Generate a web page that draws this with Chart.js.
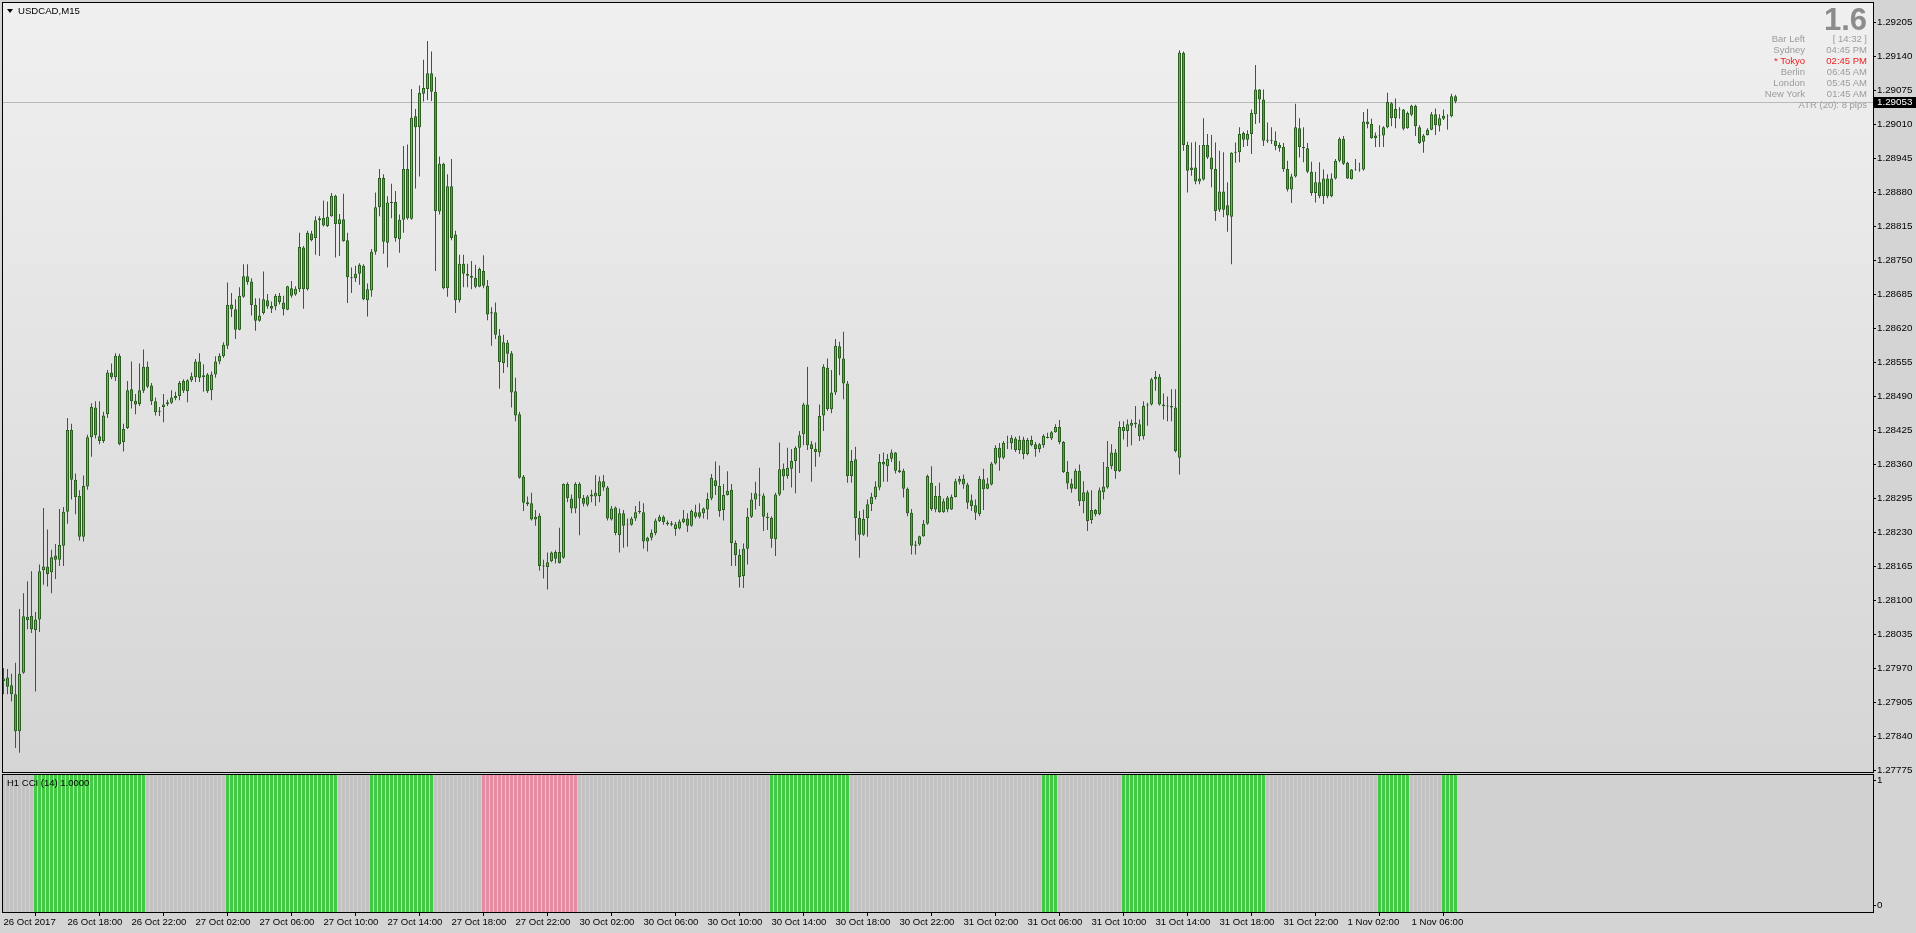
<!DOCTYPE html>
<html>
<head>
<meta charset="utf-8">
<title>USDCAD,M15</title>
<script src="https://cdn.jsdelivr.net/npm/chart.js@4.4.1/dist/chart.umd.min.js"></script>
<style>
  html, body { margin:0; padding:0; width:1916px; height:933px; overflow:hidden; background:#d4d4d4; font-family:'Liberation Sans', Arial, sans-serif; }
  canvas { position:absolute; left:0; display:block; }
  #cMain { top:0; }
  #cInd { top:773px; }
  .ov { position:absolute; white-space:nowrap; font-size:9.5px; line-height:11px; }
  #title { left:18px; top:5px; color:#000; font-size:9.6px; }
  #tri { position:absolute; left:7px; top:9px; width:0; height:0; border-left:3px solid transparent; border-right:3px solid transparent; border-top:4px solid #000; }
  #big { right:49px; top:4px; font-size:31px; line-height:31px; font-weight:bold; color:#8c8c8c; }
  #colL { right:111px; top:32.5px; text-align:right; color:#9c9c9c; }
  #colR { right:49px; top:32.5px; text-align:right; color:#9c9c9c; }
  #atr { right:49px; top:99px; text-align:right; color:#9c9c9c; }
  .red { color:#f01c1c; }
</style>
</head>
<body>
<canvas id="cMain" width="1916" height="773"></canvas>
<canvas id="cInd" width="1916" height="160"></canvas>
<div id="tri"></div>
<div class="ov" id="title">USDCAD,M15</div>
<div class="ov" id="big">1.6</div>
<div class="ov" id="colL">Bar Left<br>Sydney<br><span class="red">* Tokyo</span><br>Berlin<br>London<br>New York</div>
<div class="ov" id="colR">[ 14:32 ]<br>04:45 PM<br><span class="red">02:45 PM</span><br>06:45 AM<br>05:45 AM<br>01:45 AM</div>
<div class="ov" id="atr">ATR (20): 8 pips</div>
<script>
// ---------------- DATA (USDCAD M15, bars from 26 Oct 2017 14:00) ----------------
const opens = [
1.27945,1.27952,1.27937,1.27920,1.27849,1.27961,1.28062,1.28070,1.28042,1.28063,
1.28157,1.28164,1.28153,1.28185,1.28177,1.28204,1.28269,1.28425,1.28330,1.28299,
1.28221,1.28317,1.28411,1.28468,1.28413,1.28404,1.28455,1.28535,1.28526,1.28567,
1.28402,1.28429,1.28503,1.28481,1.28475,1.28500,1.28546,1.28510,1.28480,1.28462,
1.28469,1.28475,1.28477,1.28486,1.28490,1.28519,1.28499,1.28520,1.28526,1.28556,
1.28530,1.28531,1.28501,1.28531,1.28556,1.28566,1.28586,1.28665,1.28656,1.28617,
1.28680,1.28719,1.28709,1.28664,1.28634,1.28649,1.28673,1.28662,1.28661,1.28682,
1.28669,1.28655,1.28696,1.28684,1.28694,1.28774,1.28694,1.28801,1.28792,1.28826,
1.28831,1.28815,1.28834,1.28873,1.28819,1.28828,1.28788,1.28717,1.28715,1.28724,
1.28739,1.28673,1.28692,1.28766,1.28851,1.28907,1.28783,1.28859,1.28861,1.28790,
1.28827,1.28924,1.28829,1.29025,1.29004,1.29068,1.29077,1.29107,1.29072,1.28843,
1.28934,1.28696,1.28891,1.28799,1.28673,1.28743,1.28724,1.28720,1.28716,1.28699,
1.28729,1.28701,1.28648,1.28650,1.28606,1.28553,1.28592,1.28572,1.28499,1.28455,
1.28336,1.28287,1.28285,1.28259,1.28261,1.28166,1.28163,1.28174,1.28192,1.28192,
1.28181,1.28322,1.28294,1.28275,1.28322,1.28295,1.28282,1.28298,1.28298,1.28299,
1.28327,1.28315,1.28254,1.28277,1.28224,1.28266,1.28244,1.28244,1.28256,1.28268,
1.28268,1.28212,1.28219,1.28228,1.28251,1.28259,1.28248,1.28247,1.28236,1.28237,
1.28249,1.28256,1.28242,1.28259,1.28268,1.28266,1.28273,1.28294,1.28329,1.28318,
1.28272,1.28301,1.28311,1.28209,1.28186,1.28146,1.28198,1.28259,1.28292,1.28302,
1.28300,1.28259,1.28257,1.28216,1.28302,1.28351,1.28337,1.28351,1.28366,1.28391,
1.28417,1.28474,1.28398,1.28389,1.28382,1.28453,1.28544,1.28465,1.28497,1.28585,
1.28562,1.28514,1.28337,1.28369,1.28257,1.28225,1.28257,1.28283,1.28297,1.28315,
1.28364,1.28356,1.28370,1.28382,1.28348,1.28347,1.28313,1.28267,1.28206,1.28206,
1.28222,1.28246,1.28324,1.28273,1.28299,1.28268,1.28296,1.28273,1.28297,1.28326,
1.28332,1.28321,1.28291,1.28281,1.28264,1.28331,1.28313,1.28321,1.28361,1.28391,
1.28372,1.28400,1.28400,1.28409,1.28387,1.28407,1.28379,1.28406,1.28398,1.28389,
1.28396,1.28410,1.28409,1.28421,1.28431,1.28402,1.28345,1.28323,1.28313,1.28347,
1.28289,1.28306,1.28253,1.28272,1.28264,1.28306,1.28315,1.28356,1.28382,1.28346,
1.28423,1.28423,1.28433,1.28436,1.28436,1.28413,1.28472,1.28474,1.28522,1.28527,
1.28474,1.28472,1.28468,1.28468,1.28372,1.29146,1.28970,1.28927,1.28927,1.28900,
1.28904,1.28970,1.28946,1.28924,1.28846,1.28881,1.28855,1.28833,1.28955,1.28956,
1.28993,1.28980,1.28991,1.29029,1.29076,1.29057,1.28980,1.28980,1.28978,1.28970,
1.28966,1.28924,1.28885,1.28910,1.29002,1.28966,1.28964,1.28919,1.28878,1.28899,
1.28872,1.28906,1.28872,1.28906,1.28940,1.28982,1.28936,1.28905,1.28923,1.28924,
1.28923,1.29015,1.29010,1.28988,1.28989,1.28988,1.29004,1.29050,1.29021,1.29038,
1.29038,1.29002,1.29028,1.29045,1.29004,1.28976,1.28989,1.28999,1.29029,1.29007,
1.29020,1.29025,1.29025,1.29063
];
const highs = [
1.27970,1.27968,1.27959,1.27980,1.28083,1.28113,1.28136,1.28155,1.28077,1.28168,
1.28276,1.28235,1.28196,1.28207,1.28274,1.28278,1.28448,1.28437,1.28342,1.28310,
1.28338,1.28416,1.28476,1.28480,1.28480,1.28460,1.28540,1.28552,1.28572,1.28571,
1.28437,1.28519,1.28556,1.28494,1.28552,1.28579,1.28556,1.28515,1.28487,1.28469,
1.28494,1.28483,1.28501,1.28498,1.28519,1.28522,1.28522,1.28535,1.28561,1.28572,
1.28551,1.28534,1.28537,1.28566,1.28572,1.28593,1.28707,1.28687,1.28675,1.28698,
1.28742,1.28742,1.28715,1.28677,1.28677,1.28728,1.28685,1.28671,1.28685,1.28687,
1.28682,1.28701,1.28710,1.28700,1.28802,1.28777,1.28806,1.28806,1.28834,1.28834,
1.28864,1.28862,1.28878,1.28875,1.28838,1.28877,1.28802,1.28736,1.28739,1.28744,
1.28742,1.28705,1.28771,1.28879,1.28924,1.28914,1.28872,1.28896,1.28882,1.28837,
1.28968,1.28971,1.29077,1.29039,1.29084,1.29133,1.29169,1.29149,1.29100,1.28948,
1.28936,1.28914,1.28943,1.28806,1.28760,1.28760,1.28743,1.28748,1.28741,1.28736,
1.28759,1.28712,1.28660,1.28669,1.28618,1.28607,1.28597,1.28576,1.28525,1.28460,
1.28339,1.28298,1.28305,1.28272,1.28266,1.28177,1.28191,1.28193,1.28195,1.28238,
1.28323,1.28325,1.28302,1.28325,1.28325,1.28301,1.28301,1.28311,1.28339,1.28336,
1.28339,1.28318,1.28280,1.28279,1.28275,1.28272,1.28256,1.28259,1.28280,1.28289,
1.28285,1.28221,1.28235,1.28256,1.28263,1.28262,1.28252,1.28251,1.28249,1.28254,
1.28272,1.28266,1.28273,1.28282,1.28285,1.28277,1.28305,1.28341,1.28365,1.28357,
1.28322,1.28346,1.28322,1.28214,1.28197,1.28208,1.28276,1.28305,1.28326,1.28353,
1.28304,1.28267,1.28260,1.28305,1.28401,1.28361,1.28391,1.28389,1.28394,1.28423,
1.28477,1.28546,1.28404,1.28401,1.28474,1.28551,1.28562,1.28540,1.28599,1.28594,
1.28613,1.28519,1.28387,1.28393,1.28270,1.28273,1.28292,1.28305,1.28327,1.28379,
1.28382,1.28379,1.28388,1.28383,1.28366,1.28351,1.28315,1.28274,1.28213,1.28223,
1.28253,1.28340,1.28356,1.28318,1.28324,1.28294,1.28299,1.28302,1.28332,1.28337,
1.28340,1.28324,1.28302,1.28292,1.28337,1.28351,1.28334,1.28364,1.28396,1.28400,
1.28404,1.28414,1.28415,1.28412,1.28414,1.28412,1.28410,1.28414,1.28402,1.28400,
1.28417,1.28420,1.28423,1.28436,1.28444,1.28404,1.28366,1.28332,1.28351,1.28359,
1.28327,1.28310,1.28310,1.28274,1.28315,1.28364,1.28404,1.28398,1.28389,1.28442,
1.28442,1.28445,1.28445,1.28471,1.28445,1.28480,1.28477,1.28525,1.28538,1.28532,
1.28495,1.28489,1.28503,1.28503,1.29151,1.29149,1.28976,1.28975,1.28976,1.28970,
1.29021,1.28991,1.28989,1.28975,1.28959,1.28956,1.28899,1.28956,1.28975,1.29004,
1.28996,1.28998,1.29038,1.29123,1.29077,1.29076,1.29013,1.29004,1.28996,1.28975,
1.28974,1.28940,1.28915,1.29049,1.29021,1.29004,1.28974,1.28938,1.28919,1.28937,
1.28923,1.28914,1.28916,1.28943,1.28985,1.28987,1.28938,1.28924,1.28943,1.28936,
1.29033,1.29039,1.29020,1.28994,1.29008,1.29006,1.29070,1.29052,1.29059,1.29042,
1.29039,1.29034,1.29047,1.29047,1.29008,1.28991,1.29002,1.29033,1.29040,1.29029,
1.29038,1.29029,1.29068,1.29066
];
const lows = [
1.27920,1.27920,1.27906,1.27817,1.27808,1.27959,1.28044,1.28037,1.27925,1.28039,
1.28129,1.28126,1.28113,1.28140,1.28165,1.28165,1.28246,1.28292,1.28264,1.28214,
1.28212,1.28311,1.28374,1.28409,1.28398,1.28400,1.28448,1.28522,1.28519,1.28396,
1.28384,1.28427,1.28466,1.28455,1.28471,1.28496,1.28505,1.28473,1.28453,1.28452,
1.28440,1.28471,1.28475,1.28482,1.28482,1.28496,1.28478,1.28517,1.28517,1.28517,
1.28498,1.28496,1.28482,1.28525,1.28551,1.28563,1.28580,1.28641,1.28599,1.28616,
1.28678,1.28703,1.28644,1.28615,1.28632,1.28646,1.28657,1.28649,1.28654,1.28665,
1.28644,1.28654,1.28678,1.28682,1.28689,1.28657,1.28692,1.28786,1.28760,1.28758,
1.28814,1.28813,1.28833,1.28755,1.28758,1.28785,1.28668,1.28687,1.28708,1.28703,
1.28673,1.28642,1.28680,1.28760,1.28834,1.28762,1.28736,1.28830,1.28785,1.28764,
1.28802,1.28827,1.28827,1.28887,1.28910,1.29053,1.29056,1.29054,1.28729,1.28837,
1.28694,1.28680,1.28788,1.28649,1.28669,1.28698,1.28698,1.28694,1.28696,1.28698,
1.28696,1.28635,1.28586,1.28599,1.28504,1.28534,1.28545,1.28468,1.28442,1.28332,
1.28270,1.28280,1.28252,1.28242,1.28156,1.28141,1.28120,1.28172,1.28170,1.28170,
1.28179,1.28287,1.28266,1.28266,1.28224,1.28279,1.28279,1.28287,1.28280,1.28287,
1.28309,1.28252,1.28252,1.28224,1.28191,1.28200,1.28202,1.28242,1.28251,1.28265,
1.28198,1.28193,1.28214,1.28224,1.28249,1.28244,1.28242,1.28241,1.28223,1.28235,
1.28247,1.28230,1.28240,1.28256,1.28256,1.28256,1.28254,1.28291,1.28301,1.28259,
1.28252,1.28300,1.28165,1.28165,1.28124,1.28123,1.28168,1.28257,1.28273,1.28280,
1.28232,1.28234,1.28200,1.28184,1.28299,1.28310,1.28332,1.28315,1.28304,1.28343,
1.28396,1.28387,1.28326,1.28355,1.28374,1.28423,1.28462,1.28457,1.28492,1.28530,
1.28484,1.28324,1.28324,1.28214,1.28181,1.28223,1.28221,1.28270,1.28292,1.28310,
1.28326,1.28326,1.28364,1.28342,1.28343,1.28296,1.28260,1.28187,1.28187,1.28204,
1.28221,1.28244,1.28270,1.28268,1.28267,1.28267,1.28268,1.28272,1.28296,1.28321,
1.28313,1.28274,1.28270,1.28253,1.28260,1.28272,1.28312,1.28319,1.28359,1.28347,
1.28369,1.28389,1.28388,1.28383,1.28379,1.28369,1.28377,1.28394,1.28374,1.28382,
1.28391,1.28409,1.28406,1.28420,1.28398,1.28343,1.28312,1.28305,1.28312,1.28280,
1.28266,1.28232,1.28246,1.28260,1.28262,1.28292,1.28313,1.28350,1.28332,1.28345,
1.28407,1.28393,1.28396,1.28429,1.28404,1.28407,1.28433,1.28472,1.28500,1.28472,
1.28445,1.28442,1.28442,1.28382,1.28340,1.28959,1.28879,1.28911,1.28895,1.28895,
1.28902,1.28943,1.28889,1.28825,1.28842,1.28832,1.28804,1.28742,1.28936,1.28937,
1.28966,1.28968,1.28953,1.29010,1.29012,1.28968,1.28974,1.28972,1.28960,1.28957,
1.28919,1.28881,1.28859,1.28908,1.28946,1.28937,1.28916,1.28873,1.28860,1.28868,
1.28857,1.28868,1.28870,1.28904,1.28937,1.28932,1.28905,1.28904,1.28921,1.28919,
1.28921,1.29002,1.28982,1.28966,1.28966,1.28966,1.29002,1.29006,1.29002,1.29020,
1.28998,1.29001,1.29025,1.28987,1.28972,1.28955,1.28988,1.28998,1.28989,1.28996,
1.29018,1.28999,1.29023,1.29050
];
const closes = [
1.27950,1.27934,1.27920,1.27849,1.27959,1.28069,1.28068,1.28044,1.28063,1.28155,
1.28164,1.28150,1.28182,1.28177,1.28205,1.28269,1.28425,1.28330,1.28297,1.28221,
1.28318,1.28411,1.28469,1.28415,1.28404,1.28453,1.28535,1.28526,1.28567,1.28398,
1.28427,1.28501,1.28480,1.28474,1.28501,1.28546,1.28508,1.28480,1.28459,1.28460,
1.28474,1.28478,1.28487,1.28490,1.28515,1.28500,1.28520,1.28528,1.28556,1.28525,
1.28526,1.28499,1.28531,1.28556,1.28567,1.28588,1.28664,1.28656,1.28617,1.28682,
1.28719,1.28708,1.28664,1.28634,1.28644,1.28675,1.28661,1.28657,1.28682,1.28670,
1.28656,1.28700,1.28682,1.28695,1.28775,1.28694,1.28802,1.28788,1.28826,1.28830,
1.28816,1.28833,1.28873,1.28819,1.28828,1.28786,1.28717,1.28715,1.28724,1.28741,
1.28675,1.28694,1.28766,1.28851,1.28907,1.28785,1.28860,1.28861,1.28792,1.28827,
1.28924,1.28830,1.29022,1.29004,1.29070,1.29079,1.29107,1.29072,1.28844,1.28934,
1.28696,1.28891,1.28792,1.28673,1.28743,1.28724,1.28720,1.28716,1.28699,1.28733,
1.28701,1.28646,1.28650,1.28607,1.28555,1.28593,1.28571,1.28497,1.28453,1.28334,
1.28286,1.28283,1.28254,1.28254,1.28165,1.28164,1.28172,1.28191,1.28179,1.28171,
1.28322,1.28295,1.28275,1.28322,1.28294,1.28284,1.28298,1.28302,1.28305,1.28327,
1.28315,1.28256,1.28275,1.28228,1.28266,1.28242,1.28245,1.28256,1.28268,1.28270,
1.28212,1.28219,1.28228,1.28252,1.28259,1.28249,1.28245,1.28244,1.28245,1.28250,
1.28256,1.28242,1.28270,1.28268,1.28259,1.28275,1.28293,1.28334,1.28318,1.28270,
1.28301,1.28309,1.28209,1.28186,1.28144,1.28198,1.28259,1.28292,1.28304,1.28300,
1.28259,1.28257,1.28217,1.28302,1.28350,1.28336,1.28353,1.28366,1.28391,1.28415,
1.28474,1.28396,1.28389,1.28383,1.28452,1.28546,1.28465,1.28497,1.28586,1.28562,
1.28514,1.28337,1.28366,1.28257,1.28225,1.28255,1.28283,1.28297,1.28317,1.28364,
1.28359,1.28370,1.28382,1.28347,1.28345,1.28313,1.28266,1.28204,1.28204,1.28222,
1.28246,1.28337,1.28274,1.28299,1.28268,1.28289,1.28273,1.28297,1.28327,1.28332,
1.28321,1.28286,1.28280,1.28267,1.28332,1.28312,1.28323,1.28361,1.28391,1.28372,
1.28400,1.28401,1.28410,1.28387,1.28406,1.28379,1.28406,1.28396,1.28389,1.28398,
1.28414,1.28412,1.28421,1.28431,1.28402,1.28345,1.28323,1.28313,1.28347,1.28289,
1.28306,1.28251,1.28272,1.28264,1.28310,1.28317,1.28355,1.28382,1.28346,1.28431,
1.28431,1.28436,1.28439,1.28439,1.28413,1.28471,1.28474,1.28522,1.28527,1.28474,
1.28471,1.28470,1.28471,1.28385,1.29147,1.28970,1.28921,1.28922,1.28900,1.28906,
1.28970,1.28946,1.28923,1.28844,1.28881,1.28846,1.28835,1.28955,1.28957,1.28991,
1.28980,1.28991,1.29031,1.29076,1.29057,1.28978,1.28978,1.28978,1.28968,1.28964,
1.28924,1.28885,1.28910,1.29004,1.28966,1.28964,1.28919,1.28878,1.28899,1.28872,
1.28906,1.28872,1.28906,1.28940,1.28982,1.28934,1.28906,1.28923,1.28924,1.28923,
1.29015,1.29010,1.28983,1.28983,1.28988,1.29004,1.29052,1.29021,1.29039,1.29039,
1.29001,1.29031,1.29045,1.29006,1.28974,1.28988,1.28999,1.29029,1.29008,1.29021,
1.29026,1.29026,1.29063,1.29053
];
// H1 CCI(14) state for each M15 bar: 0 = neutral, 1 = up, 2 = down
const cciState = [
0,0,0,0,0,0,0,0,1,1,1,1,1,1,1,1,
1,1,1,1,1,1,1,1,1,1,1,1,1,1,1,1,
1,1,1,1,0,0,0,0,0,0,0,0,0,0,0,0,
0,0,0,0,0,0,0,0,1,1,1,1,1,1,1,1,
1,1,1,1,1,1,1,1,1,1,1,1,1,1,1,1,
1,1,1,1,0,0,0,0,0,0,0,0,1,1,1,1,
1,1,1,1,1,1,1,1,1,1,1,1,0,0,0,0,
0,0,0,0,0,0,0,0,2,2,2,2,2,2,2,2,
2,2,2,2,2,2,2,2,2,2,2,2,2,2,2,2,
0,0,0,0,0,0,0,0,0,0,0,0,0,0,0,0,
0,0,0,0,0,0,0,0,0,0,0,0,0,0,0,0,
0,0,0,0,0,0,0,0,0,0,0,0,0,0,0,0,
1,1,1,1,1,1,1,1,1,1,1,1,1,1,1,1,
1,1,1,1,0,0,0,0,0,0,0,0,0,0,0,0,
0,0,0,0,0,0,0,0,0,0,0,0,0,0,0,0,
0,0,0,0,0,0,0,0,0,0,0,0,0,0,0,0,
0,0,0,0,1,1,1,1,0,0,0,0,0,0,0,0,
0,0,0,0,0,0,0,0,1,1,1,1,1,1,1,1,
1,1,1,1,1,1,1,1,1,1,1,1,1,1,1,1,
1,1,1,1,1,1,1,1,1,1,1,1,0,0,0,0,
0,0,0,0,0,0,0,0,0,0,0,0,0,0,0,0,
0,0,0,0,0,0,0,0,1,1,1,1,1,1,1,1,
0,0,0,0,0,0,0,0,1,1,1,1
];
const priceTicks = [1.29205,1.29140,1.29075,1.29010,1.28945,1.28880,1.28815,1.28750,1.28685,1.28620,1.28555,1.28490,
                    1.28425,1.28360,1.28295,1.28230,1.28165,1.28100,1.28035,1.27970,1.27905,1.27840,1.27775];
const timeTickBars = [0,16,32,48,64,80,96,112,128,144,160,176,192,208,224,240,256,272,288,304,320,336,352];
const timeLabels = ["26 Oct 2017","26 Oct 18:00","26 Oct 22:00","27 Oct 02:00","27 Oct 06:00","27 Oct 10:00",
  "27 Oct 14:00","27 Oct 18:00","27 Oct 22:00","30 Oct 02:00","30 Oct 06:00","30 Oct 10:00","30 Oct 14:00",
  "30 Oct 18:00","30 Oct 22:00","31 Oct 02:00","31 Oct 06:00","31 Oct 10:00","31 Oct 14:00","31 Oct 18:00",
  "31 Oct 22:00","1 Nov 02:00","1 Nov 06:00"];
const bidPrice = 1.29053;
const indTicks = [0, 1];

// ---------------- STYLE ----------------
const FONT = "'Liberation Sans', Arial, sans-serif";
const BULL = '#45cf3f', BEAR = '#b9703f', OUTLINE = '#2b5f1f', WICK = '#2f6325';
const IND_COL = ['#c2c2c2', '#43c943', '#e58ba2'];
const X_MIN = -0.125, X_MAX = 467.375;
const Y_MIN = 1.277712, Y_MAX = 1.292415;

const idx = opens.map((_, i) => i);

const bgPlugin = {
  id: 'bg',
  beforeDraw(chart, args, opts) {
    const {ctx, chartArea: a} = chart;
    ctx.save();
    if (opts.gradient) {
      const g = ctx.createLinearGradient(0, a.top, 0, a.bottom);
      g.addColorStop(0, '#f0f0f0');
      g.addColorStop(1, '#d5d5d5');
      ctx.fillStyle = g;
    } else {
      ctx.fillStyle = opts.color || '#d0d0d0';
    }
    ctx.fillRect(a.left, a.top, a.right - a.left, a.bottom - a.top);
    ctx.restore();
  },
  afterDraw(chart) {
    const {ctx, chartArea: a} = chart;
    ctx.save();
    ctx.strokeStyle = '#000';
    ctx.lineWidth = 1;
    ctx.strokeRect(a.left - 0.5, a.top - 0.5, a.right - a.left + 1, a.bottom - a.top + 1);
    ctx.restore();
  }
};

const bidPlugin = {
  id: 'bid',
  beforeDatasetsDraw(chart) {
    const {ctx, chartArea: a, scales: {y}} = chart;
    const py = Math.round(y.getPixelForValue(bidPrice)) + 0.5;
    ctx.save();
    ctx.strokeStyle = '#b8b8b8';
    ctx.lineWidth = 1;
    ctx.beginPath(); ctx.moveTo(a.left, py); ctx.lineTo(a.right, py); ctx.stroke();
    ctx.restore();
  },
  afterDraw(chart) {
    const {ctx, chartArea: a, scales: {y}} = chart;
    const py = Math.round(y.getPixelForValue(bidPrice));
    ctx.save();
    ctx.fillStyle = '#000';
    ctx.fillRect(a.right + 1, py - 5, 1916 - a.right - 1, 11);
    ctx.fillStyle = '#fff';
    ctx.font = '9.8px ' + FONT;
    ctx.textBaseline = 'middle';
    ctx.textAlign = 'left';
    ctx.fillText(bidPrice.toFixed(5), a.right + 4, py + 0.5);
    ctx.restore();
  }
};

new Chart(document.getElementById('cMain'), {
  type: 'bar',
  data: {
    datasets: [
      {
        label: 'wick',
        data: idx.map(i => ({x: i, y: [lows[i], highs[i]]})),
        backgroundColor: WICK,
        borderWidth: 0,
        barThickness: 1,
        grouped: false,
        inflateAmount: 0,
        order: 2
      },
      {
        label: 'body',
        data: idx.map(i => ({x: i, y: [opens[i], closes[i]]})),
        backgroundColor: c => closes[c.dataIndex] >= opens[c.dataIndex] ? BULL : BEAR,
        borderColor: OUTLINE,
        borderWidth: 1,
        borderSkipped: false,
        barThickness: 3,
        grouped: false,
        inflateAmount: 0,
        order: 1
      }
    ]
  },
  options: {
    responsive: false,
    animation: false,
    devicePixelRatio: 1,
    events: [],
    layout: {padding: {left: 3, top: 3, right: 0, bottom: 1}},
    plugins: {legend: {display: false}, tooltip: {enabled: false}, bg: {gradient: true}},
    scales: {
      x: {type: 'linear', min: X_MIN, max: X_MAX, display: false, offset: false},
      y: {
        position: 'right', min: Y_MIN, max: Y_MAX,
        afterBuildTicks: s => { s.ticks = priceTicks.map(v => ({value: v})); },
        afterFit: s => { s.width = 43; s.paddingTop = 0; s.paddingBottom = 0; },
        ticks: {callback: v => Number(v).toFixed(5), color: '#000', font: {family: FONT, size: 9.8}, padding: 1, autoSkip: false},
        grid: {drawOnChartArea: false, drawTicks: true, tickLength: 3, color: '#000', tickColor: '#000'},
        border: {display: false}
      }
    }
  },
  plugins: [bgPlugin, bidPlugin]
});

new Chart(document.getElementById('cInd'), {
  type: 'bar',
  data: {
    datasets: [{
      label: 'H1 CCI (14)',
      data: idx.map(i => ({x: i, y: 1})),
      backgroundColor: c => IND_COL[cciState[c.dataIndex]],
      borderWidth: 0,
      barThickness: 3,
      grouped: false,
      inflateAmount: 0,
      yAxisID: 'y'
    }]
  },
  options: {
    responsive: false,
    animation: false,
    devicePixelRatio: 1,
    events: [],
    layout: {padding: {left: 3, top: 2, right: 0, bottom: 0}},
    plugins: {legend: {display: false}, tooltip: {enabled: false}, bg: {gradient: false, color: '#d1d1d1'}},
    scales: {
      x: {
        type: 'linear', min: X_MIN, max: X_MAX, position: 'bottom', offset: false,
        afterBuildTicks: s => { s.ticks = timeTickBars.map(v => ({value: v})); },
        afterFit: s => { s.height = 21; s.paddingLeft = 0; s.paddingRight = 0; },
        ticks: {callback: (v, i) => timeLabels[i], align: 'start', maxRotation: 0, minRotation: 0, autoSkip: false,
                color: '#000', font: {family: FONT, size: 9.6}, padding: 1},
        grid: {drawOnChartArea: false, drawTicks: true, tickLength: 4, color: '#000', tickColor: '#000'},
        border: {display: false}
      },
      y: {display: false, min: 0, max: 1},
      yLab: {
        position: 'right', min: -0.0562, max: 1.0442,
        afterBuildTicks: s => { s.ticks = indTicks.map(v => ({value: v})); },
        afterFit: s => { s.width = 43; s.paddingTop = 0; s.paddingBottom = 0; },
        ticks: {callback: v => String(v), color: '#000', font: {family: FONT, size: 9.8}, padding: 1, autoSkip: false},
        grid: {drawOnChartArea: false, drawTicks: true, tickLength: 3, color: '#000', tickColor: '#000'},
        border: {display: false}
      }
    }
  },
  plugins: [bgPlugin, {
    id: 'indTitle',
    afterDraw(chart) {
      const {ctx, chartArea: a} = chart;
      ctx.save();
      ctx.fillStyle = '#000';
      ctx.font = '9.5px ' + FONT;
      ctx.textBaseline = 'middle';
      ctx.fillText('H1 CCI (14) 1.0000', a.left + 4, a.top + 8);
      ctx.restore();
    }
  }]
});
</script>
</body>
</html>
